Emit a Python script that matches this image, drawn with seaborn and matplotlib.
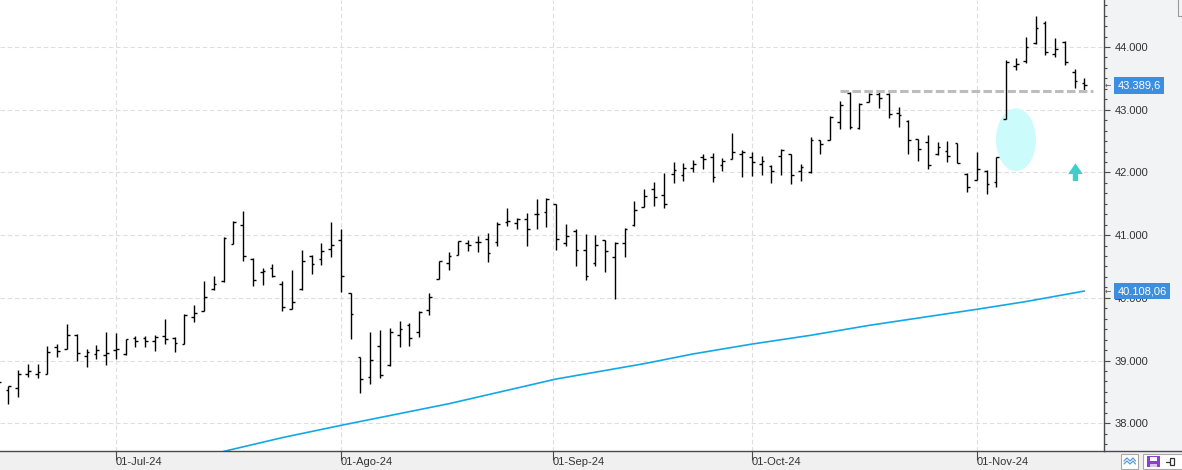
import numpy as np
import pandas as pd
import matplotlib
matplotlib.use("Agg")
import matplotlib.pyplot as plt
import matplotlib.transforms as mtrans
from matplotlib.patches import Ellipse, FancyArrow, Rectangle
from matplotlib.lines import Line2D
from matplotlib.ticker import MultipleLocator, FuncFormatter
import seaborn as sns

# ---------------- data ----------------
bar_pos = list(range(-1, 111))
opens = [38620, 38525, 38557, 38785, 38780, 38790, 39216, 39178, 39407, 39067,
         39104, 39088, 39173, 39099, 39359, 39359, 39311, 39391, 39359, 39269,
         39694, 39790, 40135, 40263, 40864, 41161, 40614, 40412, 40470, 40215,
         39827, 40135, 40667, 40619, 40779, 40917, 40072, 39056, 38732, 39232,
         38934, 39402, 39567, 39450, 39806, 40295, 40555, 40678, 40874, 40885,
         40938, 40896, 41204, 41188, 41257, 41342, 41374, 41491, 40869, 41060,
         40757, 40550, 40917, 40651, 40869, 41156, 41443, 41730, 41635, 41970,
         41954, 42065, 42241, 42241, 42113, 42219, 42288, 42251, 42129, 42097,
         42257, 42294, 42023, 42002, 42512, 42512, 42799, 43262, 42709, 43118,
         43251, 43246, 42953, 42826, 42528, 42491, 42294, 42337, 42464, 41975,
         41874, 42018, 41842, 42852, 43703, 43777, 44059, 44388, 43889, 44080,
         43602, 43432]
highs = [38700, 38588, 38849, 38945, 38940, 39232, 39264, 39582, 39418, 39184,
         39247, 39455, 39439, 39343, 39396, 39396, 39402, 39667, 39375, 39742,
         39885, 40273, 40348, 40975, 41225, 41385, 40630, 40476, 40539, 40273,
         40444, 40763, 40683, 40869, 41209, 41097, 40072, 39056, 39455, 39487,
         39519, 39630, 39593, 39784, 40077, 40592, 40731, 40906, 40917, 40986,
         41028, 41204, 41432, 41273, 41353, 41571, 41587, 41491, 41177, 41098,
         41013, 41002, 40922, 40896, 41114, 41550, 41736, 41847, 41996, 42166,
         42156, 42193, 42294, 42315, 42230, 42629, 42352, 42326, 42262, 42118,
         42374, 42294, 42134, 42565, 42517, 42895, 43139, 43283, 43102, 43262,
         43315, 43262, 43038, 42836, 42533, 42597, 42480, 42501, 42464, 41986,
         42321, 42034, 42252, 43793, 43820, 44160, 44495, 44415, 44139, 44091,
         43650, 43511]
lows = [38560, 38301, 38424, 38732, 38727, 38785, 39061, 39178, 38998, 38902,
        39019, 38934, 39030, 39083, 39221, 39221, 39157, 39264, 39141, 39258,
        39620, 39784, 40125, 40258, 40858, 40592, 40194, 40210, 40327, 39795,
        39816, 40125, 40385, 40529, 40656, 40098, 39349, 38487, 38631, 38727,
        38918, 39221, 39237, 39380, 39731, 40295, 40449, 40678, 40752, 40736,
        40577, 40832, 41140, 41103, 40832, 41092, 41134, 40763, 40832, 40513,
        40290, 40513, 40417, 39987, 40656, 41140, 41443, 41470, 41438, 41826,
        41868, 42012, 42055, 41853, 42023, 42219, 41932, 41948, 41964, 41837,
        41964, 41821, 41868, 41996, 42299, 42512, 42698, 42698, 42687, 43118,
        43033, 42873, 42719, 42289, 42188, 42049, 42273, 42172, 42145, 41693,
        41874, 41651, 41762, 42847, 43639, 43745, 44054, 43878, 43836, 43708,
        43347, 43320]
closes = [38652, 38588, 38785, 38828, 38823, 39136, 39152, 39407, 39115, 39136,
          39162, 39115, 39184, 39343, 39306, 39306, 39375, 39349, 39285, 39726,
          39758, 40008, 40220, 40949, 41209, 40662, 40279, 40428, 40353, 39848,
          39928, 40582, 40539, 40747, 40842, 40343, 39737, 38700, 39003, 38764,
          39450, 39503, 39364, 39774, 40008, 40582, 40662, 40901, 40842, 40890,
          40715, 41177, 41230, 41257, 41092, 41337, 41576, 40933, 40986, 40757,
          40343, 40837, 40741, 40880, 41103, 41401, 41619, 41608, 41502, 42033,
          42065, 42134, 42209, 41922, 42182, 42320, 42331, 42161, 42187, 42023,
          42358, 41954, 42081, 42517, 42448, 42879, 43070, 42730, 43091, 43246,
          43187, 42927, 42916, 42512, 42368, 42124, 42400, 42257, 42150, 41762,
          42055, 41810, 42241, 43761, 43724, 44000, 44303, 43915, 43974, 43756,
          43463, 43389.6]

ma_pos = [22, 28, 34, 45, 56, 65, 70, 76, 82, 88, 99, 104, 110]
ma_vals = [37550, 37770, 37966, 38310, 38705, 38950, 39105, 39262, 39402,
           39561, 39817, 39940, 40108.06]

month_tick_pos = [11, 34, 55.67, 76, 99]
month_tick_labels = ["01-Jul-24", "01-Ago-24", "01-Sep-24", "01-Oct-24", "01-Nov-24"]

resist_level = 43304
resist_span = (85.0, 110.9)
ellipse_center = (103.0, 42522)
ellipse_size = (4.09, 1000)
arrow_x = 109.08
arrow_from, arrow_to = 41863, 42145

df = pd.DataFrame({"pos": bar_pos, "open": opens, "high": highs,
                   "low": lows, "close": closes})
ma_df = pd.DataFrame({"pos": ma_pos, "ma": ma_vals})

# ---------------- style ----------------
sns.set_theme(style="white")
plt.rcParams["font.family"] = ["Liberation Sans", "DejaVu Sans"]

W, H = 1182, 470
fig = plt.figure(figsize=(W / 100, H / 100), dpi=100, facecolor="#f2f3f5")
ax = fig.add_axes([0, 19 / H, 1104 / W, 451 / H])
ax.set_facecolor("white")

# bottom band
fig.patches.append(Rectangle((0, 0), 1, 19 / H, transform=fig.transFigure,
                             facecolor="#f0f0f0", edgecolor="none", zorder=-5))

# limits
ax.set_xlim(-0.85, 112.0)
ax.set_ylim(37557, 44750)

# grid
ax.yaxis.set_major_locator(MultipleLocator(1000))
ax.yaxis.set_minor_locator(MultipleLocator(1000 / 6))
ax.set_xticks(month_tick_pos)
ax.set_xticklabels(month_tick_labels)
ax.grid(True, which="major", axis="both", color="#dedede",
        linestyle=(0, (4, 2.5)), linewidth=0.8)
ax.set_axisbelow(True)

# annotations behind bars
ax.add_patch(Ellipse(ellipse_center, ellipse_size[0], ellipse_size[1],
                     facecolor="#ccfbfb", edgecolor="none", zorder=1))

# OHLC bars
tick = 0.28
ax.vlines(df["pos"], df["low"], df["high"], colors="black", linewidth=1.0, zorder=3)
ax.hlines(df["open"], df["pos"] - tick, df["pos"], colors="black", linewidth=1.0, zorder=3)
ax.hlines(df["close"], df["pos"], df["pos"] + tick, colors="black", linewidth=1.0, zorder=3)

# moving average
sns.lineplot(data=ma_df, x="pos", y="ma", ax=ax, color="#12a8e8",
             linewidth=1.2, zorder=2, legend=False)

# resistance line
ax.hlines(resist_level, resist_span[0], resist_span[1], colors="#bdbdbd",
          linewidth=2.2, linestyles=(0, (2.8, 1.1)), zorder=4)

# arrow
ax.add_patch(FancyArrow(arrow_x, arrow_from, 0, arrow_to - arrow_from,
                        width=0.54, head_width=1.5, head_length=170,
                        length_includes_head=True, facecolor="#3ecfca",
                        edgecolor="none", zorder=4))

# axes styling
ax.set_xlabel("")
ax.set_ylabel("")
for s in ["top", "left"]:
    ax.spines[s].set_visible(False)
for s in ["right", "bottom"]:
    ax.spines[s].set_visible(True)
    ax.spines[s].set_color("#4a4a4a")
    ax.spines[s].set_linewidth(1.0)

ax.yaxis.tick_right()
ax.yaxis.set_major_formatter(FuncFormatter(lambda v, p: f"{v:,.0f}".replace(",", ".")))
ax.tick_params(axis="y", which="major", direction="out", length=4.3, width=0.8,
               color="#4a4a4a", labelsize=8, labelcolor="#333333", pad=3.2,
               right=True, left=False)
ax.tick_params(axis="y", which="minor", direction="out", length=2.2, width=0.8,
               color="#4a4a4a", right=True, left=False)
ax.tick_params(axis="x", which="major", direction="out", length=6.5, width=0.8,
               color="#4a4a4a", labelsize=8, labelcolor="#333333", pad=-2,
               bottom=True)
for lbl in ax.get_xticklabels():
    lbl.set_horizontalalignment("left")

# value labels on right axis
blend = mtrans.blended_transform_factory(ax.transAxes, ax.transData)
last_close = df["close"].iloc[-1]
last_ma = ma_df["ma"].iloc[-1]
lab1 = f"{last_close:,.1f}".replace(",", "X").replace(".", ",").replace("X", ".")
lab2 = f"{last_ma:,.2f}".replace(",", "X").replace(".", ",").replace("X", ".")
for val, txt in [(last_close, lab1), (last_ma, lab2)]:
    ax.text(1117.5 / 1104, val, txt, transform=blend, ha="left", va="center",
            fontsize=8, color="white", zorder=10, clip_on=False,
            bbox=dict(boxstyle="square,pad=0.3", facecolor="#3c8ee0", edgecolor="none"))
    ax.text(1105 / 1104, val, "←", transform=blend, ha="left", va="center",
            fontsize=5.5, color="#555555", clip_on=False, family="DejaVu Sans")

# x axis line extension across right panel
fig.add_artist(Line2D([1104 / W, 1], [1 - 451 / H, 1 - 451 / H],
                      transform=fig.transFigure, color="#4a4a4a", linewidth=1.0))

# top-right corner button outline
fig.add_artist(Rectangle((1178 / W, 1 - 16 / H), 10 / W, 20 / H,
                         transform=fig.transFigure, fill=False,
                         edgecolor="#9a9a9a", linewidth=0.8))

# bottom-right icons
def fx(px):
    return px / W


def fy(py):
    return 1 - py / H


fig.add_artist(Rectangle((fx(1120.5), fy(469)), 17.5 / W, 15 / H,
                         transform=fig.transFigure, facecolor="white",
                         edgecolor="#a8a8a8", linewidth=0.8))
for off in (0, 3):
    fig.add_artist(Line2D([fx(1124), fx(1127), fx(1130), fx(1133), fx(1135.5)],
                          [fy(461 + off), fy(458 + off), fy(461 + off), fy(458 + off), fy(461 + off)],
                          transform=fig.transFigure, color="#5b9bd5", linewidth=0.9))
fig.add_artist(Rectangle((fx(1142.5), fy(469)), 40 / W, 15 / H,
                         transform=fig.transFigure, facecolor="white",
                         edgecolor="#a8a8a8", linewidth=0.8))
fig.add_artist(Rectangle((fx(1147), fy(467)), 13 / W, 11 / H,
                         transform=fig.transFigure, facecolor="#8a40c8", edgecolor="none"))
fig.add_artist(Rectangle((fx(1150), fy(460.5)), 7 / W, 4 / H,
                         transform=fig.transFigure, facecolor="white", edgecolor="none"))
fig.add_artist(Rectangle((fx(1150), fy(467)), 7 / W, 3 / H,
                         transform=fig.transFigure, facecolor="#d8c4ee", edgecolor="none"))
fig.add_artist(Line2D([fx(1166), fx(1170)], [fy(462), fy(462)],
                      transform=fig.transFigure, color="#333333", linewidth=0.9))
fig.add_artist(Rectangle((fx(1170), fy(465)), 4 / W, 7 / H,
                         transform=fig.transFigure, fill=False,
                         edgecolor="#333333", linewidth=0.9))

fig.savefig("out.png", dpi=100, facecolor=fig.get_facecolor())
